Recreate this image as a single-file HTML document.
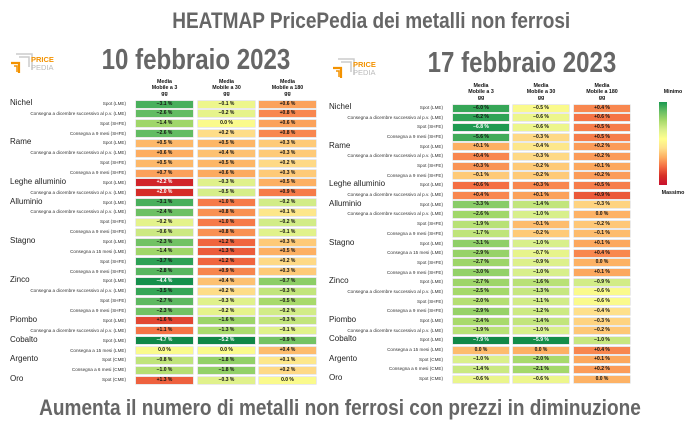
<!DOCTYPE html>
<html><head><meta charset="utf-8"><style>
body{margin:0;width:688px;height:423px;background:#fff;position:relative;overflow:hidden;font-family:"Liberation Sans",sans-serif;}
.a{position:absolute;white-space:nowrap}
.tt{color:#666;font-weight:bold;transform-origin:center;}
.m{font-size:8px;color:#222}
.s{font-size:4.6px;color:#333;text-align:right}
.c{position:absolute;height:7px;font-size:5px;font-weight:bold;text-align:center;line-height:7px;color:#111;box-shadow:0 0 0 0.6px #ddd}
.h{font-size:5.3px;font-weight:bold;text-align:center;line-height:6px;color:#111}
</style></head><body>
<div class="a tt" style="left:142px;top:8px;width:448px;text-align:center;font-size:22px;transform:scaleX(0.865)">HEATMAP PricePedia dei metalli non ferrosi</div>
<div class="a tt" style="left:60px;top:44px;width:272px;text-align:center;font-size:29px;transform:scaleX(0.83)">10 febbraio 2023</div>
<div class="a tt" style="left:386px;top:47px;width:272px;text-align:center;font-size:29px;transform:scaleX(0.83)">17 febbraio 2023</div>
<div class="a tt" style="left:-10px;top:395px;width:700px;text-align:center;font-size:22px;transform:scaleX(0.865)">Aumenta il numero di metalli non ferrosi con prezzi in diminuzione</div>

<svg class="a" style="left:10px;top:52px" width="50" height="24"><path d="M6 2h16v16" fill="none" stroke="#ccc" stroke-width="1.5"/><path d="M9 5h10v10" fill="none" stroke="#ccc" stroke-width="1.5"/><path d="M1 11h8v10" fill="none" stroke="#f39200" stroke-width="2.2"/><path d="M4 14h3v6" fill="none" stroke="#f39200" stroke-width="1.5"/><text x="21" y="10" font-size="7.5" font-weight="bold" fill="#f39200" font-family="Liberation Sans">PRICE</text><text x="21" y="18" font-size="7.5" fill="#bbb" font-family="Liberation Sans">PEDIA</text></svg>
<svg class="a" style="left:332px;top:57px" width="50" height="24"><path d="M6 2h16v16" fill="none" stroke="#ccc" stroke-width="1.5"/><path d="M9 5h10v10" fill="none" stroke="#ccc" stroke-width="1.5"/><path d="M1 11h8v10" fill="none" stroke="#f39200" stroke-width="2.2"/><path d="M4 14h3v6" fill="none" stroke="#f39200" stroke-width="1.5"/><text x="21" y="10" font-size="7.5" font-weight="bold" fill="#f39200" font-family="Liberation Sans">PRICE</text><text x="21" y="18" font-size="7.5" fill="#bbb" font-family="Liberation Sans">PEDIA</text></svg>

<div class="a h" style="top:89px;width:60px;left:643px">Minimo</div>
<div class="a" style="left:659px;top:102px;width:8px;height:83px;background:linear-gradient(#1a9850,#66bd63,#a6d96a,#d9ef8b,#ffff8c,#fee08b,#fdae61,#f46d43,#d73027,#c8102e)"></div>
<div class="a h" style="left:643px;top:190px;width:60px">Massimo</div>

<div id="root"></div>
<script>
const subs={SL:"Spot (LME)",DL:"Consegna a dicembre successivo al p.v. (LME)",SS:"Spot (SHFE)",NS:"Consegna a 9 mesi (SHFE)",QL:"Consegna a 15 mesi (LME)",SC:"Spot (CME)",SX:"Consegna a 6 mesi (CME)"};
const rows=[["Nichel","SL"],["","DL"],["","SS"],["","NS"],["Rame","SL"],["","DL"],["","SS"],["","NS"],["Leghe alluminio","SL"],["","DL"],["Alluminio","SL"],["","DL"],["","SS"],["","NS"],["Stagno","SL"],["","QL"],["","SS"],["","NS"],["Zinco","SL"],["","DL"],["","SS"],["","NS"],["Piombo","SL"],["","DL"],["Cobalto","SL"],["","QL"],["Argento","SC"],["","SX"],["Oro","SC"]];
const L=[[-3.1,-0.1,.6],[-2.6,-.2,.8],[-1.4,0,.6],[-2.6,.2,.8],[.5,.5,.3],[.6,.4,.3],[.5,.5,.2],[.7,.6,.3],[2.2,-.3,.5],[2.0,-.5,.9],[-3.1,1.0,-.2],[-2.4,.8,.1],[-.2,1.0,-.2],[-.6,.8,-.1],[-2.3,1.2,.3],[-1.4,1.3,.5],[-3.7,1.2,.2],[-2.8,.9,.3],[-4.4,.4,-.7],[-3.5,.2,-.3],[-2.7,-.3,-.5],[-2.3,-.2,-.2],[1.6,-1.6,-.3],[1.1,-1.3,-.1],[-4.7,-5.2,-.9],[0,0,.4],[-.8,-1.8,.1],[-1.0,-1.8,.2],[1.3,-.3,0]];
const R=[[-6.0,-.5,.4],[-6.2,-.6,.6],[-6.8,-.6,.5],[-5.6,-.3,.5],[.1,-.4,.2],[.4,-.3,.2],[.3,-.2,.1],[-.1,-.2,.2],[.6,.3,.5],[.4,.1,.9],[-3.3,-1.4,-.3],[-2.6,-1.0,0],[-1.9,-.1,-.2],[-1.7,-.2,-.1],[-3.1,-1.0,.1],[-2.9,-.7,.4],[-2.7,-.9,0],[-3.0,-1.0,.1],[-2.7,-1.6,-.9],[-2.5,-1.3,-.6],[-2.0,-1.1,-.6],[-2.9,-1.2,-.4],[-2.4,-1.4,-.3],[-1.9,-1.0,-.2],[-7.9,-5.9,-1.0],[0,0,.4],[-1.0,-2.0,.1],[-1.4,-2.1,.2],[-.6,-.6,0]];
const stops=[[0,104,55],[26,152,80],[102,189,99],[166,217,106],[217,239,139],[250,250,140],[254,224,139],[253,174,97],[244,109,67],[215,48,39],[200,16,46]];
function col(t){t=Math.max(0,Math.min(1,t))*10;const i=Math.min(9,Math.floor(t)),f=t-i,a=stops[i],b=stops[i+1];return [0,1,2].map(k=>Math.round(a[k]+(b[k]-a[k])*f));}
function tv(v,p){const[z,rn,rp]=p;if(v<z)return .5-.45*Math.pow(Math.min(1,(z-v)/rn),.6);return .5+.45*Math.pow(Math.min(1,(v-z)/rp),.6);}
function fmt(v){return (v>0?"+":v<0?"\u2212":"")+Math.abs(v).toFixed(1)+" %";}
let h="";
function table(D,y0,dy,xs,w,lx,mx,hy,params){
 xs.forEach((x,j)=>{h+=`<div class="a h" style="left:${x}px;top:${hy}px;width:${w}px">Media<br>Mobile a ${[3,30,180][j]}<br>gg</div>`;});
 rows.forEach((r,i)=>{const y=y0+i*dy;
  if(r[0])h+=`<div class="a m" style="left:${mx}px;top:${y-6}px">${r[0]}</div>`;
  h+=`<div class="a s" style="left:${lx-200}px;width:200px;top:${y-3}px">${subs[r[1]]}</div>`;
  D[i].forEach((v,j)=>{const t=tv(v,params[j]),c=col(t);const fc=(t<.12||t>.9)?"#fff":"#111";
   h+=`<div class="c" style="left:${xs[j]}px;top:${(y-3.5).toFixed(1)}px;width:${w}px;background:rgb(${c})">`+`<span style="color:${fc}">${fmt(v)}</span></div>`;});
 });
}
table(L,104,9.86,[136,198,259],57,126,10,79,[[0,5,2.3],[0,5.5,2.2],[0,2,2.0]]);
table(R,108,9.68,[453,513,574],56,443,329,83,[[-0.4,8,2.0],[-0.5,6,2.0],[-0.6,3,2.5]]);
document.getElementById("root").innerHTML=h;
</script>
</body></html>
